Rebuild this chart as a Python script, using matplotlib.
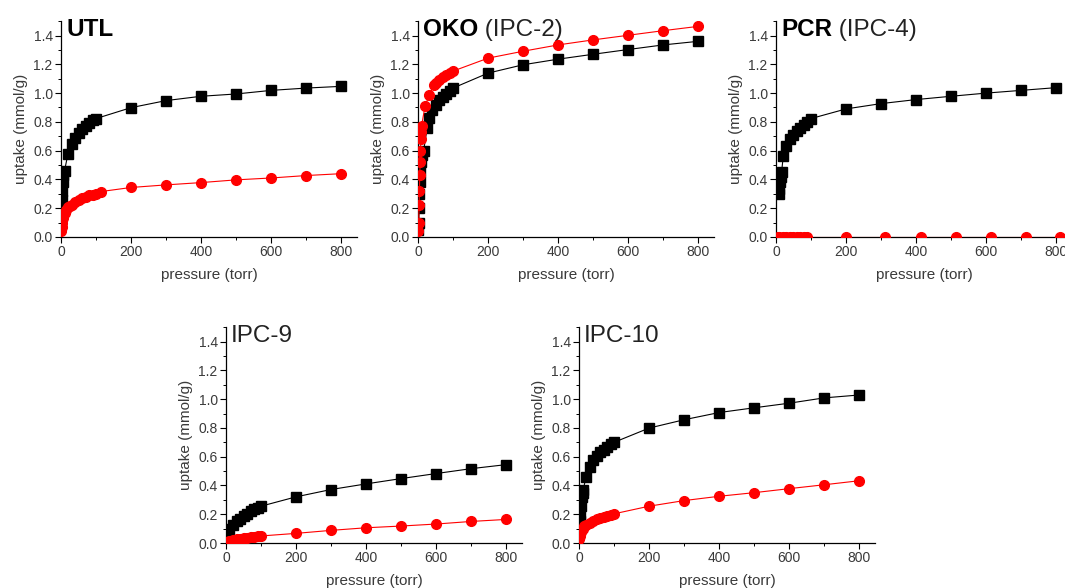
"""Adsorption isotherms for five zeolite frameworks (black squares / red circles)."""

import matplotlib
matplotlib.use("Agg")
import matplotlib.pyplot as plt
from matplotlib.ticker import MultipleLocator

plt.rcParams.update({
    "font.family": ["Liberation Sans", "DejaVu Sans"],
    "font.size": 10,
})

HIGH_P = [200, 300, 400, 500, 600, 700, 800]

# UTL
utl_p_black = [1, 2, 3, 5, 7, 10, 20, 30, 40, 50, 60, 70, 80, 90, 100] + HIGH_P
utl_black = [0.21, 0.26, 0.32, 0.38, 0.43, 0.46, 0.58, 0.645, 0.69, 0.72, 0.75, 0.77, 0.79, 0.81, 0.823,
             0.899, 0.948, 0.978, 0.994, 1.019, 1.035, 1.047]
utl_p_red = [1, 2, 3, 5, 7, 10, 15, 20, 25, 30, 40, 50, 60, 70, 80, 90, 100, 115] + HIGH_P
utl_red = [0.04, 0.07, 0.10, 0.13, 0.15, 0.17, 0.19, 0.205, 0.215, 0.225, 0.245, 0.26, 0.27, 0.28, 0.29,
           0.295, 0.30, 0.316, 0.344, 0.362, 0.378, 0.397, 0.41, 0.427, 0.44]

# OKO (IPC-2)
oko_p_black = [1, 2, 3, 4, 5, 6, 8, 12, 16, 26, 32, 40, 50, 60, 70, 80, 90, 100] + HIGH_P
oko_black = [0.05, 0.10, 0.20, 0.30, 0.38, 0.45, 0.52, 0.57, 0.60, 0.754, 0.83, 0.88, 0.92, 0.95, 0.975,
             0.995, 1.015, 1.035, 1.139, 1.197, 1.236, 1.27, 1.303, 1.335, 1.36]
oko_p_red = [1, 2, 3, 4, 5, 6, 7, 8, 9, 10, 20, 32, 45, 50, 60, 70, 80, 90, 100] + HIGH_P
oko_red = [0.04, 0.10, 0.22, 0.32, 0.43, 0.52, 0.60, 0.68, 0.73, 0.77, 0.909, 0.985, 1.054, 1.07, 1.09,
           1.11, 1.125, 1.14, 1.153, 1.243, 1.291, 1.335, 1.37, 1.402, 1.434, 1.464]

# PCR (IPC-4)
pcr_p_black = [8, 10, 12, 14, 16, 21, 30, 40, 50, 60, 70, 80, 90, 100] + HIGH_P
pcr_black = [0.30, 0.33, 0.38, 0.42, 0.45, 0.565, 0.634, 0.68, 0.71, 0.74, 0.76, 0.78, 0.80, 0.823,
             0.89, 0.927, 0.955, 0.978, 1.0, 1.019, 1.038]
pcr_p_red = [5, 10, 20, 30, 40, 50, 60, 70, 80, 88, 200, 310, 414, 515, 615, 715, 812]
pcr_red = [0.002] * 17

# IPC-9
ipc9_p_black = [2, 5, 10, 20, 30, 40, 50, 60, 70, 80, 90, 100] + HIGH_P
ipc9_black = [0.05, 0.075, 0.10, 0.125, 0.15, 0.17, 0.19, 0.205, 0.22, 0.235, 0.245, 0.256,
              0.321, 0.372, 0.411, 0.448, 0.483, 0.517, 0.545]
ipc9_p_red = [2, 5, 10, 20, 30, 40, 50, 60, 70, 80, 90, 100] + HIGH_P
ipc9_red = [0.005, 0.01, 0.015, 0.02, 0.025, 0.03, 0.033, 0.037, 0.04, 0.043, 0.046, 0.049,
            0.067, 0.088, 0.106, 0.118, 0.132, 0.150, 0.164]

# IPC-10
ipc10_p_black = [1, 2, 3, 5, 8, 10, 12, 20, 30, 40, 50, 60, 70, 80, 90, 100] + HIGH_P
ipc10_black = [0.10, 0.15, 0.20, 0.26, 0.32, 0.35, 0.37, 0.46, 0.53, 0.575, 0.605, 0.63, 0.65, 0.67,
               0.685, 0.70, 0.799, 0.857, 0.907, 0.94, 0.972, 1.009, 1.029]
ipc10_p_red = [1, 2, 3, 5, 7, 10, 15, 20, 30, 40, 50, 60, 70, 80, 90, 100] + HIGH_P
ipc10_red = [0.03, 0.05, 0.065, 0.08, 0.09, 0.10, 0.115, 0.125, 0.142, 0.155, 0.165, 0.175, 0.183,
             0.19, 0.197, 0.203, 0.256, 0.295, 0.325, 0.35, 0.378, 0.405, 0.433]

PANELS = [
    # (bold title, plain title, black x, black y, red x, red y, axes rect)
    ("UTL", "", utl_p_black, utl_black, utl_p_red, utl_red, [0.0573, 0.597, 0.278, 0.367]),
    ("OKO", " (IPC-2)", oko_p_black, oko_black, oko_p_red, oko_red, [0.3925, 0.597, 0.278, 0.367]),
    ("PCR", " (IPC-4)", pcr_p_black, pcr_black, pcr_p_red, pcr_red, [0.7286, 0.597, 0.278, 0.367]),
    ("", "IPC-9", ipc9_p_black, ipc9_black, ipc9_p_red, ipc9_red, [0.2122, 0.0765, 0.278, 0.367]),
    ("", "IPC-10", ipc10_p_black, ipc10_black, ipc10_p_red, ipc10_red, [0.5437, 0.0765, 0.278, 0.367]),
]

TEXT_GRAY = "#3a3a3a"
TITLE_SIZE = 17.5

fig = plt.figure(figsize=(10.65, 5.88), dpi=100)

for bold, plain, xb, yb, xr, yr, rect in PANELS:
    ax = fig.add_axes(rect)
    ax.plot(xb, yb, color="black", lw=0.8, marker="s", ms=7, mec="black", mfc="black", zorder=3)
    ax.plot(xr, yr, color="red", lw=0.8, marker="o", ms=7, mec="red", mfc="red", zorder=4)

    ax.set_xlim(0, 845)
    ax.set_ylim(0, 1.5)
    ax.set_xticks([0, 200, 400, 600, 800])
    ax.set_yticks([0.0, 0.2, 0.4, 0.6, 0.8, 1.0, 1.2, 1.4])
    ax.xaxis.set_minor_locator(MultipleLocator(100))
    ax.yaxis.set_minor_locator(MultipleLocator(0.1))
    ax.yaxis.set_major_formatter(plt.FormatStrFormatter("%.1f"))
    ax.tick_params(which="major", direction="out", length=4, width=0.8, labelsize=10,
                   labelcolor=TEXT_GRAY, pad=2)
    ax.tick_params(which="minor", direction="out", length=2, width=0.7)
    for side in ("top", "right"):
        ax.spines[side].set_visible(False)
    for side in ("left", "bottom"):
        ax.spines[side].set_linewidth(0.9)

    ax.set_xlabel("pressure (torr)", fontsize=11, color=TEXT_GRAY, labelpad=6)
    ax.set_ylabel("uptake (mmol/g)", fontsize=11, color=TEXT_GRAY, labelpad=4)

    if bold:
        t = ax.text(0.017, 1.4, bold, transform=ax.get_yaxis_transform(), fontsize=TITLE_SIZE,
                    fontweight="bold", va="baseline", ha="left")
        if plain:
            ax.annotate(plain, xy=(1, 0), xycoords=t, va="bottom", ha="left",
                        fontsize=TITLE_SIZE, color="#222222")
    else:
        ax.text(0.017, 1.4, plain, transform=ax.get_yaxis_transform(), fontsize=TITLE_SIZE,
                va="baseline", ha="left", color="#222222")

fig.savefig("out.png", dpi=100)
